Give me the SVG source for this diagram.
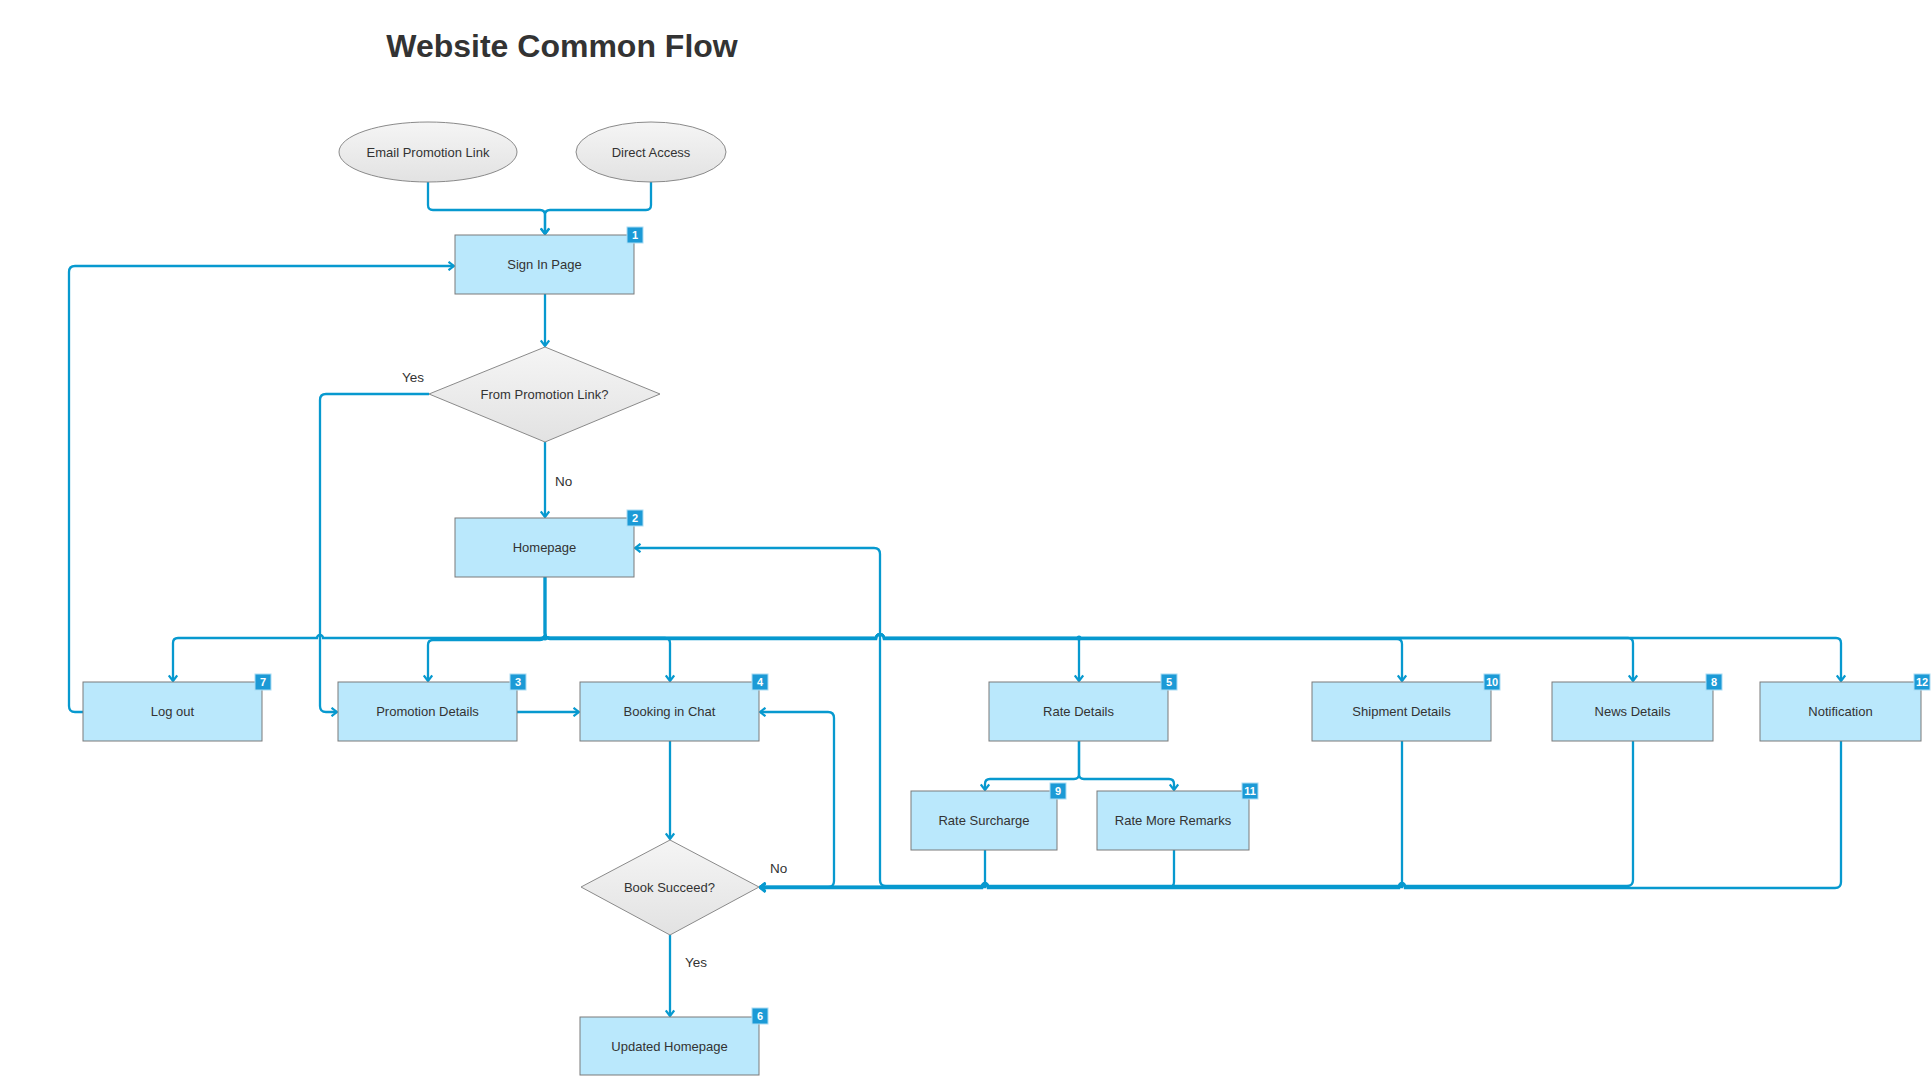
<svg xmlns="http://www.w3.org/2000/svg" width="1931" height="1076" viewBox="0 0 1931 1076">
<style>
text{font-family:"Liberation Sans",Arial,sans-serif;fill:#333}
.t{font-size:13px;text-anchor:middle}
.lbl{font-size:13.5px}
.title{font-size:32px;font-weight:bold;text-anchor:middle}
.box{fill:#bae8fc;stroke:#7a7a7a;stroke-width:1}
.gray{fill:url(#g);stroke:#8a8a8a;stroke-width:1}
.bd{fill:#1c9ad6;stroke:#a9dcf4;stroke-width:1}
.bt{font-size:11px;font-weight:bold;fill:#fff;text-anchor:middle}
.c{fill:none;stroke:#0799cf;stroke-width:2.3}
.a{marker-end:url(#ar)}
.dot{fill:#0799cf}
</style>
<defs>
<linearGradient id="g" x1="0" y1="0" x2="0" y2="1">
<stop offset="0" stop-color="#f5f5f5"/>
<stop offset="1" stop-color="#e2e2e2"/>
</linearGradient>
<marker id="ar" markerUnits="userSpaceOnUse" viewBox="0 0 10 10" refX="9" refY="5" markerWidth="10" markerHeight="10" orient="auto">
<path d="M3.5,0.8 L9,5 L3.5,9.2" fill="none" stroke="#0799cf" stroke-width="2.2"/>
</marker>
</defs>
<rect width="1931" height="1076" fill="#fff"/>
<text class="title" x="562" y="57">Website Common Flow</text>

<g id="connectors">
<path class="c a" d="M428,182 V205 Q428,210 433,210 H540 Q545,210 545,215 V234"/>
<path class="c a" d="M651,182 V205 Q651,210 646,210 H550 Q545,210 545,215 V234"/>
<path class="c a" d="M545,294 V346"/>
<path class="c a" d="M545,442 V517"/>
<path class="c a" d="M429,394 H326 Q320,394 320,400 V706 Q320,712 326,712 H337"/>
<path class="c a" d="M545,577 V633 Q545,638 540,638 H323 A3,3 0 0 0 317,638 H178 Q173,638 173,643 V681"/>
<path class="c a" d="M545,577 V635 Q545,640 540,640 H433 Q428,640 428,645 V681"/>
<path class="c a" d="M545,577 V633 Q545,638 550,638 H665 Q670,638 670,643 V681"/>
<path class="c a" d="M545,577 V633 Q545,638 550,638 H876 A4,4 0 0 1 884,638 H1079 V681"/>
<path class="c a" d="M545,577 V634 Q545,639 550,639 H876 A4,4 0 0 1 884,639 H1397 Q1402,639 1402,644 V681"/>
<path class="c a" d="M545,577 V633 Q545,638 550,638 H876 A4,4 0 0 1 884,638 H1628 Q1633,638 1633,643 V681"/>
<path class="c a" d="M545,577 V633 Q545,638 550,638 H876 A4,4 0 0 1 884,638 H1836 Q1841,638 1841,643 V681"/>
<path class="c a" d="M83,712 H75 Q69,712 69,706 V272 Q69,266 75,266 H454"/>
<path class="c a" d="M517,712 H579"/>
<path class="c a" d="M670,741 V839"/>
<path class="c a" d="M759,887 H828 Q834,887 834,881 V718 Q834,712 828,712 H760"/>
<path class="c a" d="M670,935 V1016"/>
<path class="c a" d="M1079,741 V774 Q1079,779 1074,779 H990 Q985,779 985,784 V790"/>
<path class="c a" d="M1079,741 V774 Q1079,779 1084,779 H1169 Q1174,779 1174,784 V790"/>
<path class="c a" d="M985,850 V887 H760"/>
<path class="c a" d="M1174,850 V882 Q1174,887 1169,887 H988 A3,3 0 0 0 982,887 H760"/>
<path class="c a" d="M1402,741 V887 H988 A3,3 0 0 0 982,887 H760"/>
<path class="c a" d="M1633,741 V880 Q1633,886 1627,886 H1405 A3,3 0 0 0 1399,886 H988 A3,3 0 0 0 982,886 H886 Q880,886 880,880 V554 Q880,548 874,548 H635"/>
<path class="c a" d="M1841,741 V882 Q1841,888 1835,888 H1405 A3,3 0 0 0 1399,888 H988 A3,3 0 0 0 982,888 H760"/>
<circle class="dot" cx="545" cy="638" r="2.5"/>
<circle class="dot" cx="1079" cy="638" r="2.5"/>
<text class="lbl" x="402" y="382">Yes</text>
<text class="lbl" x="555" y="486">No</text>
<text class="lbl" x="770" y="873">No</text>
<text class="lbl" x="685" y="967">Yes</text>
</g>

<g id="email">
<ellipse class="gray" cx="428" cy="152" rx="89" ry="30"/>
<text class="t" x="428" y="156.5">Email Promotion Link</text>
</g>
<g id="direct">
<ellipse class="gray" cx="651" cy="152" rx="75" ry="30"/>
<text class="t" x="651" y="156.5">Direct Access</text>
</g>
<g id="signin">
<rect class="box" x="455" y="235" width="179" height="59"/>
<text class="t" x="544.5" y="269">Sign In Page</text>
<rect class="bd" x="627" y="227" width="16" height="16"/>
<text class="bt" x="635" y="239">1</text>
</g>
<g id="frompromo">
<polygon class="gray" points="545,347 660,394 545,442 429,394"/>
<text class="t" x="544.5" y="398.5">From Promotion Link?</text>
</g>
<g id="homepage">
<rect class="box" x="455" y="518" width="179" height="59"/>
<text class="t" x="544.5" y="552">Homepage</text>
<rect class="bd" x="627" y="510" width="16" height="16"/>
<text class="bt" x="635" y="522">2</text>
</g>
<g id="logout">
<rect class="box" x="83" y="682" width="179" height="59"/>
<text class="t" x="172.5" y="716">Log out</text>
<rect class="bd" x="255" y="674" width="16" height="16"/>
<text class="bt" x="263" y="686">7</text>
</g>
<g id="promodetails">
<rect class="box" x="338" y="682" width="179" height="59"/>
<text class="t" x="427.5" y="716">Promotion Details</text>
<rect class="bd" x="510" y="674" width="16" height="16"/>
<text class="bt" x="518" y="686">3</text>
</g>
<g id="booking">
<rect class="box" x="580" y="682" width="179" height="59"/>
<text class="t" x="669.5" y="716">Booking in Chat</text>
<rect class="bd" x="752" y="674" width="16" height="16"/>
<text class="bt" x="760" y="686">4</text>
</g>
<g id="ratedetails">
<rect class="box" x="989" y="682" width="179" height="59"/>
<text class="t" x="1078.5" y="716">Rate Details</text>
<rect class="bd" x="1161" y="674" width="16" height="16"/>
<text class="bt" x="1169" y="686">5</text>
</g>
<g id="shipment">
<rect class="box" x="1312" y="682" width="179" height="59"/>
<text class="t" x="1401.5" y="716">Shipment Details</text>
<rect class="bd" x="1484" y="674" width="16" height="16"/>
<text class="bt" x="1492" y="686">10</text>
</g>
<g id="news">
<rect class="box" x="1552" y="682" width="161" height="59"/>
<text class="t" x="1632.5" y="716">News Details</text>
<rect class="bd" x="1706" y="674" width="16" height="16"/>
<text class="bt" x="1714" y="686">8</text>
</g>
<g id="notification">
<rect class="box" x="1760" y="682" width="161" height="59"/>
<text class="t" x="1840.5" y="716">Notification</text>
<rect class="bd" x="1914" y="674" width="16" height="16"/>
<text class="bt" x="1922" y="686">12</text>
</g>
<g id="ratesurcharge">
<rect class="box" x="911" y="791" width="146" height="59"/>
<text class="t" x="984" y="825">Rate Surcharge</text>
<rect class="bd" x="1050" y="783" width="16" height="16"/>
<text class="bt" x="1058" y="795">9</text>
</g>
<g id="rateremarks">
<rect class="box" x="1097" y="791" width="152" height="59"/>
<text class="t" x="1173" y="825">Rate More Remarks</text>
<rect class="bd" x="1242" y="783" width="16" height="16"/>
<text class="bt" x="1250" y="795">11</text>
</g>
<g id="booksucceed">
<polygon class="gray" points="670,840 759,887 670,935 581,887"/>
<text class="t" x="669.5" y="891.5">Book Succeed?</text>
</g>
<g id="updated">
<rect class="box" x="580" y="1017" width="179" height="58"/>
<text class="t" x="669.5" y="1050.5">Updated Homepage</text>
<rect class="bd" x="752" y="1008" width="16" height="16"/>
<text class="bt" x="760" y="1020">6</text>
</g>
</svg>
